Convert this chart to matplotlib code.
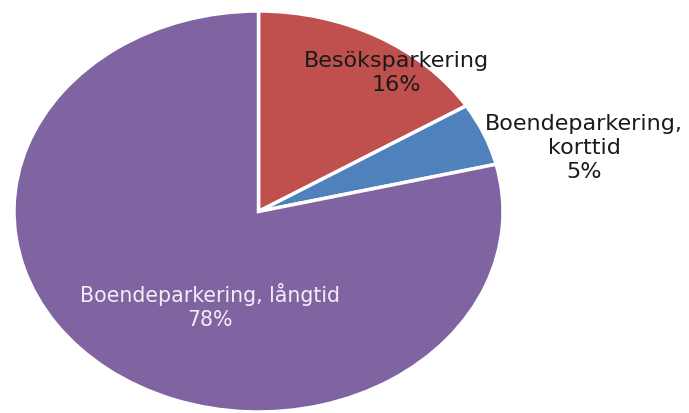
import matplotlib
matplotlib.use("Agg")
from matplotlib import pyplot as plt

# Data
kategorier = ["Besöksparkering", "Boendeparkering,\nkorttid", "Boendeparkering, långtid"]
andelar = [16, 5, 78]
etiketter = ["16%", "5%", "78%"]
farger = ["#C0504D", "#4F81BD", "#8064A2"]

plt.rcParams['font.family'] = ['DejaVu Sans']

fig = plt.figure(figsize=(6.89, 4.14), dpi=100)
# pie is stretched into an ellipse: wider than tall
ax = fig.add_axes([14 / 689, (414 - 413) / 414, 489 / 689, 401 / 414])

wedges, _ = ax.pie(andelar, colors=farger, startangle=90, counterclock=False,
                   wedgeprops=dict(edgecolor="white", linewidth=2.5))
ax.set_aspect('auto')
ax.set_xlim(-1.0, 1.0)
ax.set_ylim(-1.0, 1.0)
ax.axis('off')

# Labels (figure pixel positions from top-left)
def fig_text(x, y, s, color, size):
    fig.text(x / 689, 1 - y / 414, s, ha='center', va='center', fontsize=size,
             color=color, linespacing=1.25)

fig_text(396, 73, kategorier[0] + "\n" + etiketter[0], "#1a1a1a", 16)
fig_text(584, 148, kategorier[1] + "\n" + etiketter[1], "#1a1a1a", 16)
fig_text(210, 307, kategorier[2] + "\n" + etiketter[2], "#F2EEF7", 14.8)

fig.savefig("out.png", dpi=100)
